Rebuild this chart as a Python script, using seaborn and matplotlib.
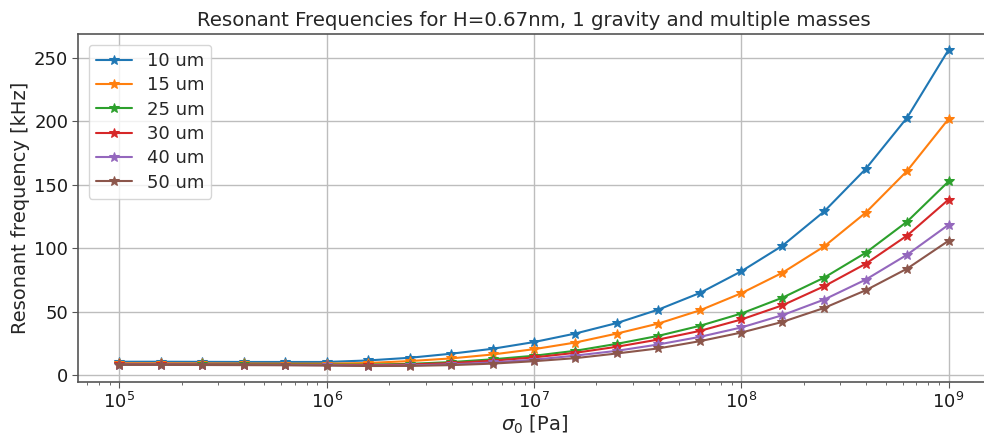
import matplotlib
matplotlib.use("Agg")
import matplotlib.pyplot as plt
import numpy as np
import pandas as pd
import seaborn as sns

# stress values [Pa], 5 points per decade
sigma = [1.0e5, 1.58e5, 2.51e5, 3.98e5, 6.31e5,
         1.0e6, 1.58e6, 2.51e6, 3.98e6, 6.31e6,
         1.0e7, 1.58e7, 2.51e7, 3.98e7, 6.31e7,
         1.0e8, 1.58e8, 2.51e8, 3.98e8, 6.31e8, 1.0e9]

masses = ["10 um", "15 um", "25 um", "30 um", "40 um", "50 um"]

f_10 = [10.5, 10.5, 10.4, 10.3, 10.3, 10.3, 11.5, 13.6, 16.8, 20.7, 26.0,
        32.7, 41.0, 51.6, 64.7, 81.8, 102.0, 129.0, 162.5, 203.0, 256.5]
f_15 = [9.3, 9.3, 9.2, 9.1, 9.0, 9.0, 9.5, 11.0, 13.1, 16.2, 20.4,
        25.6, 32.7, 40.6, 51.0, 64.5, 80.7, 101.4, 128.0, 161.0, 202.0]
f_25 = [8.6, 8.6, 8.5, 8.4, 8.3, 8.2, 8.2, 8.8, 10.2, 12.4, 15.2,
        19.1, 24.6, 30.9, 38.8, 48.5, 61.0, 76.8, 96.4, 121.0, 152.7]
f_30 = [8.4, 8.4, 8.3, 8.2, 8.1, 8.0, 7.8, 8.3, 9.4, 11.3, 13.9,
        17.5, 22.3, 28.0, 34.8, 43.8, 55.0, 70.0, 87.7, 110.0, 138.4]
f_40 = [8.2, 8.2, 8.1, 8.0, 7.9, 7.7, 7.4, 7.6, 8.4, 9.9, 12.1,
        15.3, 19.1, 24.1, 30.1, 37.5, 47.2, 59.5, 75.2, 94.9, 118.5]
f_50 = [8.0, 8.0, 7.9, 7.8, 7.7, 7.5, 7.1, 7.2, 7.8, 9.0, 10.9,
        13.3, 17.0, 21.0, 26.7, 33.5, 41.9, 52.9, 66.8, 83.9, 105.9]

series = [f_10, f_15, f_25, f_30, f_40, f_50]

df = pd.concat(
    [pd.DataFrame({"sigma": sigma, "freq": f, "mass": m}) for m, f in zip(masses, series)],
    ignore_index=True)

sns.set_style("whitegrid")
plt.rcParams["font.family"] = ["DejaVu Sans"]

fig = plt.figure(figsize=(9.84, 4.36), dpi=100)
# right edge of the axes sits just past the figure border, as in the original crop
ax = fig.add_axes([78 / 984, (436 - 382) / 436, 912 / 984, 348 / 436])

colors = sns.color_palette("tab10", len(masses))
for m, c in zip(masses, colors):
    sns.lineplot(data=df[df["mass"] == m], x="sigma", y="freq", color=c,
                 marker="*", markersize=7, markeredgecolor=c, linewidth=1.5,
                 label=m, ax=ax)

ax.set_xscale("log")
ax.set_xlim(10 ** 4.8, 10 ** 9.2)
ax.set_ylim(-5.5, 269)
ax.set_yticks([0, 50, 100, 150, 200, 250])

ax.grid(True, which="major", color="#bdbdbd", linewidth=1.0)
ax.grid(False, which="minor")
for s in ax.spines.values():
    s.set_color("#555555")
    s.set_linewidth(1.2)
ax.tick_params(axis="both", which="major", labelsize=13, length=4,
               color="#555555", labelcolor="#1a1a1a", bottom=True, left=True,
               direction="out", pad=3)
ax.tick_params(axis="x", which="minor", length=2.5, color="#555555", bottom=True)

ax.set_title("Resonant Frequencies for H=0.67nm, 1 gravity and multiple masses",
             fontsize=14.2, pad=6)
ax.set_xlabel(r"$\sigma_0$ [Pa]", fontsize=14, labelpad=1)
ax.set_ylabel("Resonant frequency [kHz]", fontsize=14, labelpad=3)

ax.legend(loc="upper left", fontsize=13, frameon=True, framealpha=0.8,
          edgecolor="#cccccc", handlelength=2.0, labelspacing=0.35,
          borderaxespad=0.6)

fig.savefig("out.png", dpi=100)
